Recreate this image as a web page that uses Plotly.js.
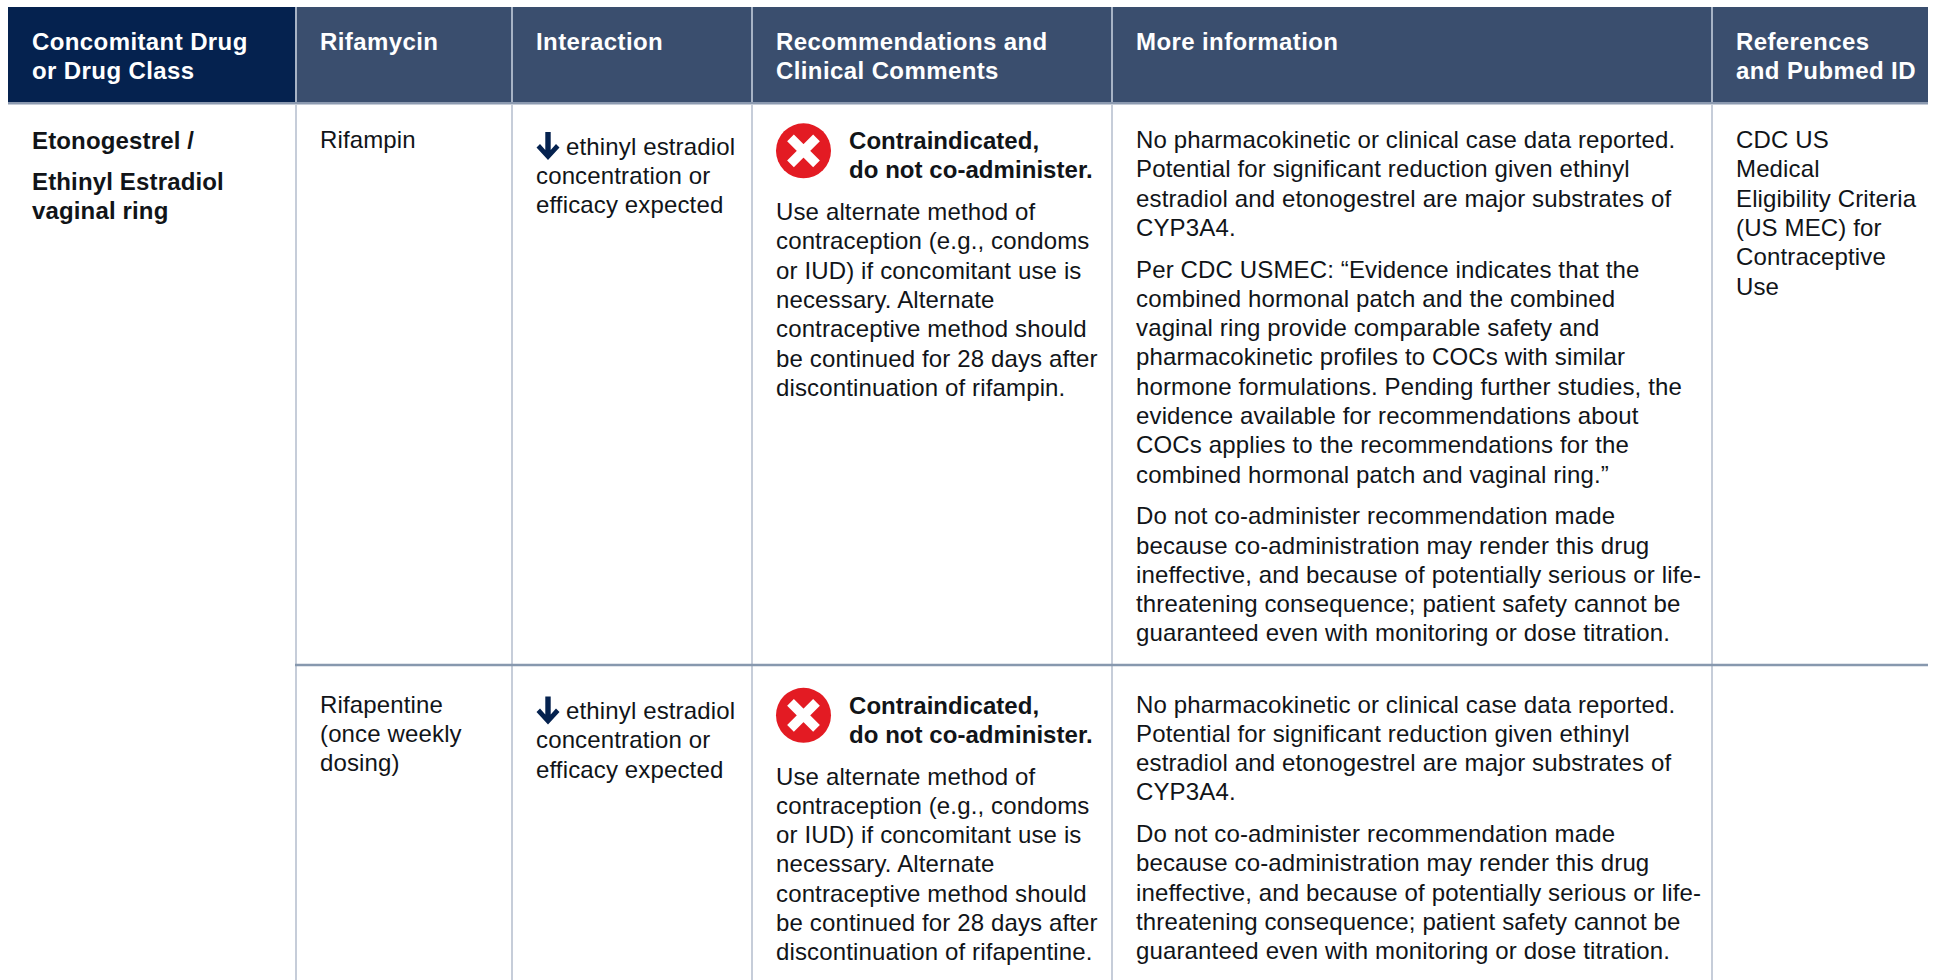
<!DOCTYPE html>
<html><head><meta charset="utf-8">
<script src="https://cdn.plot.ly/plotly-3.0.1.min.js"></script>
<style>html,body{margin:0;padding:0;background:#fff;overflow:hidden}#p{width:1937px;height:980px}</style>
</head><body><div id="p"></div>
<script>
// ---------- content ----------
const headers = [
  ["Concomitant Drug","or Drug Class"],
  ["Rifamycin"],
  ["Interaction"],
  ["Recommendations and","Clinical Comments"],
  ["More information"],
  ["References","and Pubmed ID"]
];
const drugClass = [["Etonogestrel /"],["Ethinyl Estradiol","vaginal ring"]];
const rifamycins = [["Rifampin"],["Rifapentine","(once weekly","dosing)"]];
const interaction = ["ethinyl estradiol","concentration or","efficacy expected"];
const verdict = ["Contraindicated,","do not co-administer."];
const recommend = [
 ["Use alternate method of","contraception (e.g., condoms","or IUD) if concomitant use is","necessary. Alternate","contraceptive method should","be continued for 28 days after","discontinuation of rifampin."],
 ["Use alternate method of","contraception (e.g., condoms","or IUD) if concomitant use is","necessary. Alternate","contraceptive method should","be continued for 28 days after","discontinuation of rifapentine."]
];
const noData = ["No pharmacokinetic or clinical case data reported.","Potential for significant reduction given ethinyl","estradiol and etonogestrel are major substrates of","CYP3A4."];
const usmec = ["Per CDC USMEC: “Evidence indicates that the","combined hormonal patch and the combined","vaginal ring provide comparable safety and","pharmacokinetic profiles to COCs with similar","hormone formulations. Pending further studies, the","evidence available for recommendations about","COCs applies to the recommendations for the","combined hormonal patch and vaginal ring.”"];
const doNot = ["Do not co-administer recommendation made","because co-administration may render this drug","ineffective, and because of potentially serious or life-","threatening consequence; patient safety cannot be","guaranteed even with monitoring or dose titration."];
const references = ["CDC US","Medical","Eligibility Criteria","(US MEC) for","Contraceptive","Use"];

// ---------- layout constants ----------
const FONT = "Liberation Sans, Arial, sans-serif";
const W=1937,H=980;
const colEdges=[8,296,512,752,1112,1712,1928];
const textX=[31,319,535,775,1134.5,1735];
const headTop=7,headBot=102,rowLine=665;
const PITCH=29.3,PGAP=12.6,ROW=[139.5,704];
const BODY=24,INK="#111418";
const ann=[],spacing=[];
function line(t,x,y,o={}){
  ann.push({text:o.bold?"<b>"+t+"</b>":t,x,y,xref:"x",yref:"y",xanchor:"left",yanchor:"middle",showarrow:false,align:"left",borderpad:0,
    font:{family:FONT,size:BODY,color:o.color||INK}});
  spacing.push(o.ls===undefined?0.14:o.ls);
}
function block(lines,x,y,o){lines.forEach((t,i)=>line(t,x,y+i*PITCH,o));return y+lines.length*PITCH;}

headers.forEach((h,i)=>block(h,textX[i],41.5,{bold:true,color:"#ffffff",ls:0.4}));
let y=block(drugClass[0],textX[0],140.5,{bold:true,ls:0.15});
block(drugClass[1],textX[0],y+11.5,{bold:true,ls:0.15});
const arrows=[],icons=[];
[0,1].forEach(r=>{
  const y0=ROW[r];
  block(rifamycins[r],textX[1],y0);
  const yi=y0+6.5;
  line(interaction[0],565,yi);
  block(interaction.slice(1),textX[2],yi+PITCH);
  arrows.push([548,y0+6.5]);
  icons.push([803.5,y0+11.3]);
  block(verdict,848,y0+1,{bold:true,ls:0.05});
  block(recommend[r],textX[3],y0+72);
  let yy=block(noData,textX[4],y0);
  if(r===0){yy=block(usmec,textX[4],yy+PGAP-0.3);}
  block(doNot,textX[4],yy+PGAP-0.3);
  if(r===0)block(references,textX[5],y0);
});

// ---------- shapes ----------
const rect=(x0,x1,y0,y1,c)=>({type:"rect",x0,x1,y0,y1,xref:"x",yref:"y",fillcolor:c,line:{width:0},layer:"below"});
const vl=(x,y0,y1,c,w)=>({type:"line",x0:x,x1:x,y0,y1,xref:"x",yref:"y",line:{color:c,width:w},layer:"below"});
const shapes=[
  rect(colEdges[0],colEdges[1],headTop,headBot,"#05224f"),
  rect(colEdges[1],colEdges[6],headTop,headBot,"#3a4e6e"),
  rect(colEdges[0],colEdges[6],headBot,104.5,"#8c9ab0"),
];
colEdges.slice(1,6).forEach(x=>{
  shapes.push(vl(x,headTop,102,"#a7b3c5",2));
  shapes.push(vl(x,104.5,H,"#c6cdd9",2));
});
shapes.push(rect(colEdges[1]-1,colEdges[6],rowLine-1.3,rowLine+1.3,"#8798ae"));
arrows.forEach(([cx,cy])=>{
  const p=`M ${cx-2.7} ${cy-14} L ${cx+2.7} ${cy-14} L ${cx+2.7} ${cy+4} L ${cx+8} ${cy-2} L ${cx+11.5} ${cy+1.5} L ${cx} ${cy+14} L ${cx-11.5} ${cy+1.5} L ${cx-8} ${cy-2} L ${cx-2.7} ${cy+4} Z`;
  shapes.push({type:"path",path:p,xref:"x",yref:"y",fillcolor:"#05224f",line:{width:0}});
});

const traces=[
 {type:"scatter",mode:"markers",x:icons.map(a=>a[0]),y:icons.map(a=>a[1]),hoverinfo:"skip",showlegend:false,
  marker:{symbol:"circle",size:55,color:"#e31b23",line:{width:0}}},
 {type:"scatter",mode:"markers",x:icons.map(a=>a[0]),y:icons.map(a=>a[1]),hoverinfo:"skip",showlegend:false,
  marker:{symbol:"x-thin-open",size:26,color:"#ffffff",line:{width:9.5,color:"#ffffff"}}}
];
Plotly.newPlot("p",traces,{
  width:W,height:H,margin:{l:0,r:0,t:0,b:0},paper_bgcolor:"#fff",plot_bgcolor:"#fff",showlegend:false,
  xaxis:{range:[0,W],visible:false,fixedrange:true},
  yaxis:{range:[H,0],visible:false,fixedrange:true},
  shapes,annotations:ann,hovermode:false
},{displayModeBar:false,staticPlot:true}).then(gd=>{
  gd.querySelectorAll(".annotation").forEach(g=>{
    const i=+g.getAttribute("data-index");
    const t=g.querySelector("text");
    if(t)t.style.letterSpacing=spacing[i]+"px";
  });
});
</script></body></html>
